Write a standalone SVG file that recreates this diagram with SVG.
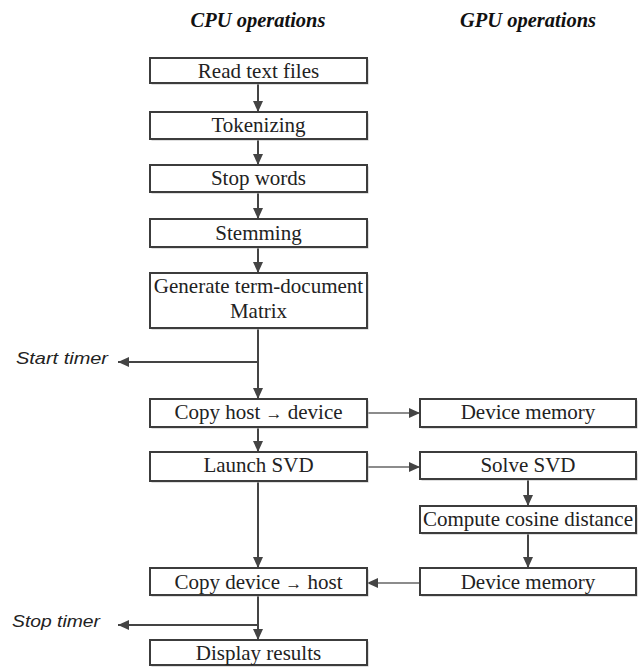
<svg xmlns="http://www.w3.org/2000/svg" width="643" height="668" viewBox="0 0 643 668">
<style>
.box{fill:#fff;stroke:#3c3c3c;stroke-width:2}
.sh{fill:#bdbdbd;stroke:none}
.t{font-family:"Liberation Serif","Times New Roman",serif;font-size:21px;fill:#222;text-anchor:middle}
.h{font-family:"Liberation Serif","Times New Roman",serif;font-size:20.5px;font-weight:bold;font-style:italic;fill:#111;text-anchor:middle}
.lab{font-family:"Liberation Sans",Arial,sans-serif;font-size:17px;font-style:italic;fill:#222}
.v{stroke:#444;stroke-width:2;fill:none}
.hz{stroke:#666;stroke-width:1.3;fill:none}
.ar{font-size:17px}
</style>
<defs>
<marker id="ah" markerUnits="userSpaceOnUse" markerWidth="12" markerHeight="11" refX="11" refY="5" orient="auto">
<path d="M0,0 L11,5 L0,10 z" fill="#444"/>
</marker>
</defs>
<text class="h" x="258" y="27">CPU operations</text>
<text class="h" x="528" y="27">GPU operations</text>
<g id="connectors">
<line class="v" x1="258" y1="83" x2="258" y2="112" marker-end="url(#ah)"/>
<line class="v" x1="258" y1="139" x2="258" y2="165" marker-end="url(#ah)"/>
<line class="v" x1="258" y1="192" x2="258" y2="219" marker-end="url(#ah)"/>
<line class="v" x1="258" y1="247" x2="258" y2="273" marker-end="url(#ah)"/>
<line class="v" x1="258" y1="328" x2="258" y2="399" marker-end="url(#ah)"/>
<line class="v" x1="258" y1="362" x2="118" y2="362" marker-end="url(#ah)"/>
<line class="v" x1="258" y1="427" x2="258" y2="452" marker-end="url(#ah)"/>
<line class="v" x1="258" y1="482" x2="258" y2="568" marker-end="url(#ah)"/>
<line class="v" x1="258" y1="595" x2="258" y2="640" marker-end="url(#ah)"/>
<line class="v" x1="258" y1="625" x2="118" y2="625" marker-end="url(#ah)"/>
<line class="hz" x1="367" y1="413" x2="420" y2="413" marker-end="url(#ah)"/>
<line class="hz" x1="367" y1="467" x2="420" y2="467" marker-end="url(#ah)"/>
<line class="v" x1="528" y1="479" x2="528" y2="506" marker-end="url(#ah)"/>
<line class="v" x1="528" y1="533" x2="528" y2="568" marker-end="url(#ah)"/>
<line class="hz" x1="420" y1="583" x2="367" y2="583" marker-end="url(#ah)"/>
</g>
<text class="lab" x="16" y="364" textLength="92" lengthAdjust="spacingAndGlyphs">Start timer</text>
<text class="lab" x="12" y="627" textLength="88" lengthAdjust="spacingAndGlyphs">Stop timer</text>
<g id="read"><rect class="sh" x="151.5" y="59.5" width="217" height="25"/><rect class="box" x="150" y="58" width="217" height="25"/><text class="t" x="258.5" y="78">Read text files</text></g>
<g id="tokenizing"><rect class="sh" x="151.5" y="113.5" width="217" height="27"/><rect class="box" x="150" y="112" width="217" height="27"/><text class="t" x="258.5" y="132">Tokenizing</text></g>
<g id="stopwords"><rect class="sh" x="151.5" y="166.5" width="217" height="27"/><rect class="box" x="150" y="165" width="217" height="27"/><text class="t" x="258.5" y="185">Stop words</text></g>
<g id="stemming"><rect class="sh" x="151.5" y="220.5" width="217" height="28"/><rect class="box" x="150" y="219" width="217" height="28"/><text class="t" x="258.5" y="240">Stemming</text></g>
<g id="generate"><rect class="sh" x="151.5" y="274.5" width="217" height="55"/><rect class="box" x="150" y="273" width="217" height="55"/><text class="t" x="258.5" y="293">Generate term-document</text><text class="t" x="258.5" y="318">Matrix</text></g>
<g id="copyhd"><rect class="sh" x="151.5" y="400.5" width="217" height="28"/><rect class="box" x="150" y="399" width="217" height="28"/><text class="t" x="258.5" y="419">Copy host <tspan class="ar">→</tspan> device</text></g>
<g id="launch"><rect class="sh" x="151.5" y="453.5" width="217" height="29"/><rect class="box" x="150" y="452" width="217" height="29"/><text class="t" x="258.5" y="472">Launch SVD</text></g>
<g id="copydh"><rect class="sh" x="151.5" y="569.5" width="217" height="27"/><rect class="box" x="150" y="568" width="217" height="27"/><text class="t" x="258.5" y="589">Copy device <tspan class="ar">→</tspan> host</text></g>
<g id="display"><rect class="sh" x="151.5" y="641.5" width="217" height="25"/><rect class="box" x="150" y="640" width="217" height="25"/><text class="t" x="258.5" y="660">Display results</text></g>
<g id="devmem1"><rect class="sh" x="421.5" y="400.5" width="216" height="28"/><rect class="box" x="420" y="399" width="216" height="28"/><text class="t" x="528" y="419">Device memory</text></g>
<g id="solve"><rect class="sh" x="421.5" y="453.5" width="216" height="27"/><rect class="box" x="420" y="452" width="216" height="27"/><text class="t" x="528" y="472">Solve SVD</text></g>
<g id="cosine"><rect class="sh" x="421.5" y="507.5" width="216" height="27"/><rect class="box" x="420" y="506" width="216" height="27"/><text class="t" x="528" y="526">Compute cosine distance</text></g>
<g id="devmem2"><rect class="sh" x="421.5" y="569.5" width="216" height="27"/><rect class="box" x="420" y="568" width="216" height="27"/><text class="t" x="528" y="589">Device memory</text></g>
</svg>
